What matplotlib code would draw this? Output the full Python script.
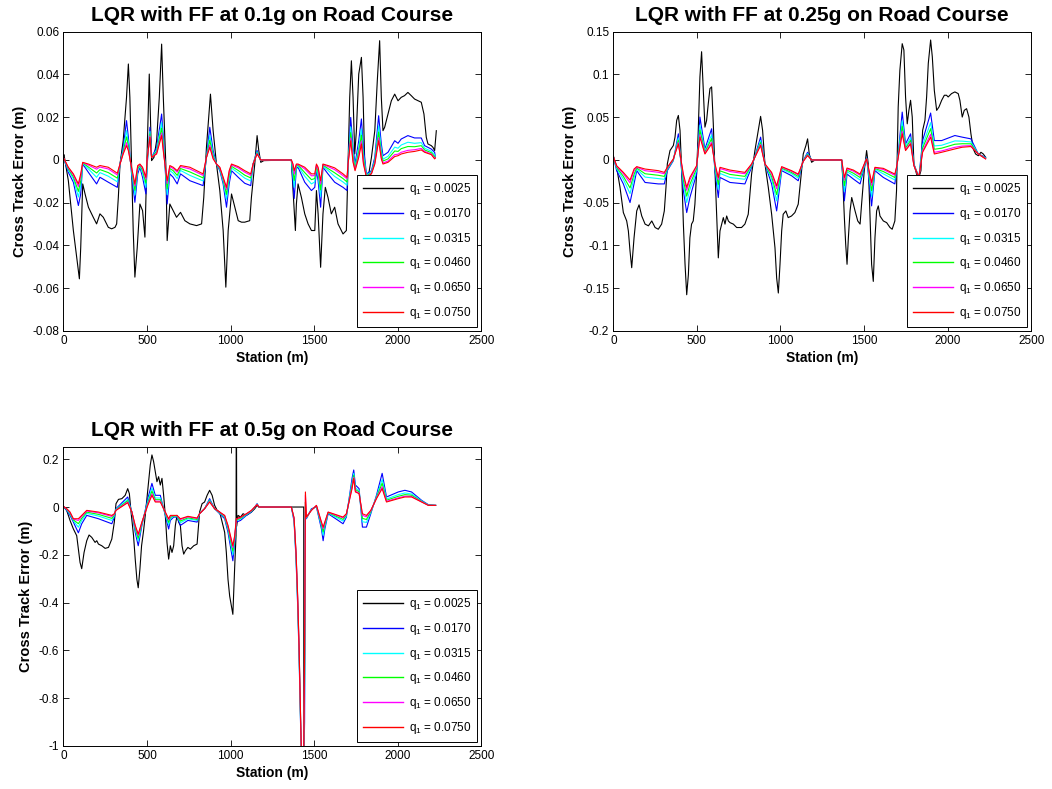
import numpy as np
import matplotlib
matplotlib.use("Agg")
import matplotlib.pyplot as plt
from matplotlib.ticker import FixedLocator, FixedFormatter

plt.rcParams['font.family'] = ['Liberation Sans', 'DejaVu Sans']
plt.rcParams['mathtext.fontset'] = 'custom'
plt.rcParams['mathtext.rm'] = 'Liberation Sans'
plt.rcParams['mathtext.it'] = 'Liberation Sans'

titles = ["LQR with FF at 0.1g on Road Course",
          "LQR with FF at 0.25g on Road Course",
          "LQR with FF at 0.5g on Road Course"]
q_labels = ["0.0025", "0.0170", "0.0315", "0.0460", "0.0650", "0.0750"]
colors = ["#000000", "#0000ff", "#00ffff", "#00ff00", "#ff00ff", "#ff0000"]

x_ticks = [0, 500, 1000, 1500, 2000, 2500]
x_ticklabels = ["0", "500", "1000", "1500", "2000", "2500"]

# ---------------- Panel 1 : 0.1 g ----------------
p1_y_ticks = [-0.08, -0.06, -0.04, -0.02, 0, 0.02, 0.04, 0.06]
p1_y_ticklabels = ["-0.08", "-0.06", "-0.04", "-0.02", "0", "0.02", "0.04", "0.06"]

p1_st_k = [0, 4, 30, 60, 80, 96, 104, 116, 130, 150, 179, 199, 219, 239, 269, 289, 309, 319, 329, 339,
           358, 378, 389, 398, 408, 418, 428, 442, 458, 474, 488, 494, 502, 514, 528, 542, 558, 574, 588, 598,
           613, 621, 637, 657, 677, 701, 727, 757, 797, 827, 840, 856, 880, 896, 916, 936, 956, 972, 986, 1006,
           1026, 1046, 1066, 1085, 1115, 1125, 1145, 1159, 1169, 1181, 1199, 1364, 1374, 1388, 1394, 1404, 1424, 1444, 1464, 1484,
           1504, 1514, 1524, 1539, 1553, 1567, 1583, 1603, 1623, 1643, 1673, 1693, 1703, 1713, 1723, 1733, 1743, 1753, 1767, 1783,
           1793, 1803, 1813, 1827, 1843, 1863, 1878, 1892, 1902, 1912, 1922, 1942, 1962, 1982, 2002, 2021, 2041, 2061, 2081, 2101,
           2141, 2157, 2171, 2181, 2201, 2211, 2221, 2231]
p1_k = [0.002, 0.0025, -0.0097, -0.033, -0.0455, -0.0556, -0.041, -0.0112, -0.0159, -0.0221,
        -0.0268, -0.0299, -0.0252, -0.0268, -0.0315, -0.0322, -0.0315, -0.0299, -0.0175, -0.0019,
        0.009, 0.0293, 0.0449, 0.0293, -0.0019, -0.033, -0.0548, -0.041, -0.0206, -0.0237,
        -0.0361, -0.0175, 0.0059, 0.0402, -0.0003, 0.0012, 0.009, 0.0293, 0.0542, 0.0293,
        -0.0019, -0.0377, -0.0206, -0.0237, -0.0268, -0.0245, -0.0284, -0.0299, -0.0307, -0.0299,
        -0.0175, 0.0059, 0.0308, 0.0137, -0.0019, -0.0143, -0.033, -0.0595, -0.033, -0.0159,
        -0.0221, -0.0284, -0.0291, -0.0291, -0.0284, -0.0175, -0.0019, 0.0114, 0.0044, -0.0011,
        -0.0003, 0.0, -0.0143, -0.033, -0.0206, -0.0112, -0.0175, -0.0252, -0.0299, -0.033,
        -0.033, -0.0143, -0.0252, -0.0502, -0.0252, -0.0128, -0.0175, -0.0252, -0.0221, -0.0299,
        -0.0346, -0.033, -0.0019, 0.0293, 0.0464, 0.0293, 0.0028, 0.0137, 0.0402, 0.048,
        0.0293, -0.0019, -0.0081, -0.0065, 0.0012, 0.0137, 0.0371, 0.0558, 0.0293, 0.0137,
        0.0153, 0.0215, 0.0277, 0.0308, 0.0277, 0.0293, 0.0301, 0.0316, 0.0301, 0.0285,
        0.027, 0.0215, 0.0106, 0.0075, 0.0067, 0.0059, 0.0044, 0.0137]

p1_st_c = [0, 30, 60, 90, 104, 116, 150, 199, 219, 269, 323, 339, 358, 378, 389, 408, 428, 445, 458, 474,
           494, 502, 518, 528, 558, 588, 600, 621, 637, 657, 681, 701, 757, 836, 856, 876, 896, 916, 936, 956,
           976, 992, 1006, 1046, 1085, 1121, 1135, 1159, 1181, 1200, 1364, 1374, 1381, 1394, 1404, 1444, 1484, 1504, 1514, 1524,
           1539, 1553, 1583, 1623, 1673, 1697, 1703, 1719, 1733, 1745, 1767, 1783, 1795, 1813, 1843, 1863, 1886, 1902, 1912, 1942,
           1982, 2002, 2021, 2061, 2101, 2141, 2161, 2201, 2221, 2225]
p1_b = [0.0012, -0.0058, -0.0104, -0.0213, -0.0159, -0.0019, -0.0058, -0.0112, -0.0081, -0.0104,
        -0.0128, -0.0019, 0.0059, 0.0184, 0.0106, -0.0065, -0.0198, -0.0065, -0.0034, -0.0081,
        -0.0159, -0.0019, 0.0153, 0.0012, 0.0059, 0.0215, 0.009, -0.0206, -0.0065, -0.0081,
        -0.0112, -0.0065, -0.0097, -0.012, 0.0012, 0.0153, 0.0044, -0.0019, -0.005, -0.0112,
        -0.0221, -0.0112, -0.005, -0.0081, -0.0109, -0.012, -0.0019, 0.0044, -0.0003, 0.0,
        0.0, -0.0112, -0.018, -0.004, -0.0034, -0.0104, -0.0143, -0.0128, -0.005, -0.0097,
        -0.0221, -0.0034, -0.0065, -0.0104, -0.0128, -0.0143, -0.0019, 0.0199, 0.0059, -0.0019,
        0.009, 0.0192, 0.0059, -0.0065, -0.005, 0.0012, 0.0207, 0.0075, 0.002, 0.0036,
        0.009, 0.0078, 0.0098, 0.0114, 0.0103, 0.0103, 0.0067, 0.0051, 0.0036, 0.0016]
p1_c = [0.0012, -0.0048, -0.0088, -0.0173, -0.0121, -0.0016, -0.0042, -0.0081, -0.0059, -0.0076,
        -0.0102, -0.0019, 0.0047, 0.0137, 0.0081, -0.0053, -0.0164, -0.0049, -0.0028, -0.0062,
        -0.0128, -0.0007, 0.0134, 0.0012, 0.0047, 0.0175, 0.0065, -0.0162, -0.0049, -0.0062,
        -0.0087, -0.0049, -0.0072, -0.0098, 0.0012, 0.0115, 0.0028, -0.0019, -0.0044, -0.0100,
        -0.0184, -0.0087, -0.0038, -0.0061, -0.0085, -0.0098, -0.0019, 0.0038, -0.0002, 0.0,
        0.0, -0.0075, -0.0128, -0.0032, -0.0028, -0.0076, -0.0112, -0.0103, -0.0038, -0.0072,
        -0.0171, -0.0028, -0.0049, -0.0077, -0.0103, -0.0118, -0.0019, 0.0155, 0.0031, -0.0031,
        0.0059, 0.0145, 0.0028, -0.0071, -0.0056, 0.0, 0.0160, 0.0047, 0.0004, 0.0017,
        0.0060, 0.0055, 0.0070, 0.0083, 0.0078, 0.0081, 0.0055, 0.0041, 0.0024, 0.0013]
p1_g = [0.0012, -0.0042, -0.0079, -0.0147, -0.0098, -0.0014, -0.0033, -0.0061, -0.0045, -0.0059,
        -0.0085, -0.0019, 0.0039, 0.0108, 0.0066, -0.0045, -0.0142, -0.0040, -0.0024, -0.0050,
        -0.0108, 0.0001, 0.0122, 0.0012, 0.0039, 0.0149, 0.0050, -0.0135, -0.0040, -0.0050,
        -0.0072, -0.0040, -0.0056, -0.0084, 0.0012, 0.0092, 0.0019, -0.0019, -0.0040, -0.0092,
        -0.0161, -0.0072, -0.0030, -0.0049, -0.0071, -0.0084, -0.0019, 0.0034, -0.0001, 0.0,
        0.0, -0.0052, -0.0096, -0.0026, -0.0024, -0.0059, -0.0092, -0.0087, -0.0030, -0.0056,
        -0.0140, -0.0024, -0.0040, -0.0060, -0.0087, -0.0103, -0.0019, 0.0128, 0.0014, -0.0039,
        0.0039, 0.0116, 0.0008, -0.0075, -0.0060, -0.0008, 0.0131, 0.0030, -0.0005, 0.0005,
        0.0042, 0.0040, 0.0053, 0.0063, 0.0062, 0.0067, 0.0047, 0.0034, 0.0016, 0.0011]
p1_m = [0.0012, -0.0037, -0.0070, -0.0124, -0.0076, -0.0012, -0.0024, -0.0043, -0.0033, -0.0042,
        -0.0070, -0.0019, 0.0032, 0.0081, 0.0051, -0.0038, -0.0122, -0.0031, -0.0021, -0.0040,
        -0.0090, 0.0008, 0.0112, 0.0012, 0.0032, 0.0126, 0.0035, -0.0110, -0.0031, -0.0040,
        -0.0057, -0.0031, -0.0042, -0.0072, 0.0012, 0.0070, 0.0010, -0.0019, -0.0036, -0.0085,
        -0.0139, -0.0057, -0.0023, -0.0037, -0.0057, -0.0072, -0.0019, 0.0030, 0.0, 0.0,
        0.0, -0.0030, -0.0066, -0.0022, -0.0021, -0.0042, -0.0074, -0.0073, -0.0023, -0.0042,
        -0.0112, -0.0021, -0.0031, -0.0045, -0.0073, -0.0088, -0.0019, 0.0103, -0.0003, -0.0046,
        0.0021, 0.0089, -0.0010, -0.0079, -0.0063, -0.0015, 0.0104, 0.0013, -0.0014, -0.0005,
        0.0025, 0.0027, 0.0036, 0.0045, 0.0048, 0.0054, 0.0040, 0.0028, 0.0009, 0.0010]
p1_r = [0.0012, -0.0034, -0.0065, -0.0112, -0.0065, -0.0011, -0.0019, -0.0034, -0.0026, -0.0034,
        -0.0062, -0.0019, 0.0028, 0.0067, 0.0044, -0.0034, -0.0112, -0.0026, -0.0019, -0.0034,
        -0.0081, 0.0012, 0.0106, 0.0012, 0.0028, 0.0114, 0.0028, -0.0097, -0.0026, -0.0034,
        -0.005, -0.0026, -0.0034, -0.0065, 0.0012, 0.0059, 0.0005, -0.0019, -0.0034, -0.0081,
        -0.0128, -0.005, -0.0019, -0.0031, -0.005, -0.0065, -0.0019, 0.0028, 0.0, 0.0,
        0.0, -0.0019, -0.005, -0.0019, -0.0019, -0.0034, -0.0065, -0.0065, -0.0019, -0.0034,
        -0.0097, -0.0019, -0.0026, -0.0037, -0.0065, -0.0081, -0.0019, 0.009, -0.0011, -0.005,
        0.0012, 0.0075, -0.0019, -0.0081, -0.0065, -0.0019, 0.009, 0.0005, -0.0019, -0.0011,
        0.0016, 0.002, 0.0028, 0.0036, 0.004, 0.0047, 0.0036, 0.0025, 0.0005, 0.0009]

# ---------------- Panel 2 : 0.25 g ----------------
p2_y_ticks = [-0.2, -0.15, -0.1, -0.05, 0, 0.05, 0.1, 0.15]
p2_y_ticklabels = ["-0.2", "-0.15", "-0.1", "-0.05", "0", "0.05", "0.1", "0.15"]

p2_st_k = [0, 20, 40, 60, 80, 90, 100, 110, 124, 140, 154, 170, 190, 210, 230, 250, 269, 289, 305, 315,
           323, 339, 359, 369, 379, 389, 399, 409, 419, 429, 439, 449, 458, 468, 478, 488, 498, 508, 518, 528,
           538, 548, 558, 568, 578, 588, 598, 608, 618, 628, 638, 648, 658, 668, 678, 688, 698, 718, 738, 767,
           787, 807, 827, 847, 867, 881, 893, 907, 927, 947, 967, 977, 987, 997, 1007, 1016, 1032, 1046, 1066, 1086,
           1106, 1120, 1136, 1152, 1162, 1172, 1186, 1206, 1366, 1370, 1382, 1390, 1398, 1406, 1416, 1426, 1436, 1446, 1462, 1476,
           1485, 1501, 1515, 1525, 1535, 1545, 1555, 1565, 1575, 1585, 1595, 1615, 1635, 1655, 1668, 1684, 1694, 1704, 1714, 1728,
           1738, 1748, 1758, 1768, 1778, 1788, 1798, 1814, 1828, 1840, 1850, 1864, 1874, 1884, 1898, 1908, 1920, 1934, 1948, 1964,
           1980, 1993, 2003, 2023, 2043, 2063, 2073, 2087, 2099, 2113, 2127, 2139, 2153, 2167, 2183, 2199, 2213, 2227]
p2_k = [0.005, -0.0086, -0.032, -0.0615, -0.0713, -0.083, -0.1066, -0.126, -0.091, -0.0596,
        -0.0525, -0.0655, -0.075, -0.077, -0.0713, -0.079, -0.081, -0.075, -0.0596, -0.032,
        -0.0047, 0.011, 0.0169, 0.0267, 0.0463, 0.0521, 0.0345, -0.0125, -0.075, -0.122,
        -0.1576, -0.134, -0.091, -0.075, -0.0713, -0.0517, -0.0165, 0.0345, 0.097, 0.1266,
        0.0815, 0.0384, 0.0463, 0.0659, 0.0835, 0.0855, 0.0423, -0.0125, -0.0635, -0.1145,
        -0.083, -0.075, -0.0674, -0.075, -0.0655, -0.0713, -0.0733, -0.075, -0.079, -0.079,
        -0.075, -0.0635, -0.0165, 0.011, 0.0345, 0.051, 0.0345, -0.0047, -0.032, -0.0635,
        -0.1027, -0.138, -0.1556, -0.122, -0.083, -0.0635, -0.0596, -0.0674, -0.0655, -0.0615,
        -0.0517, -0.0243, 0.007, 0.0169, 0.0247, 0.007, -0.0027, 0.0, 0.0, -0.0125,
        -0.0674, -0.0988, -0.122, -0.091, -0.0596, -0.0439, -0.0517, -0.0596, -0.0713, -0.075,
        -0.0517, -0.0125, 0.011, -0.0047, -0.0635, -0.122, -0.142, -0.091, -0.0596, -0.0537,
        -0.0655, -0.0713, -0.0733, -0.079, -0.081, -0.0713, -0.036, 0.062, 0.105, 0.136,
        0.1286, 0.0737, 0.0423, 0.058, 0.0698, 0.0502, -0.0047, -0.0165, -0.0204, -0.0125,
        0.0345, 0.0463, 0.0737, 0.113, 0.1403, 0.1207, 0.0815, 0.058, 0.062, 0.0698,
        0.0757, 0.0757, 0.0737, 0.0776, 0.0796, 0.0776, 0.0698, 0.0502, 0.058, 0.06,
        0.0502, 0.0306, 0.0129, 0.007, 0.005, 0.009, 0.007, 0.0031]

p2_st_c = [0, 20, 60, 100, 124, 140, 190, 269, 305, 323, 359, 389, 419, 439, 458, 498, 518, 548, 588, 608,
           628, 638, 698, 787, 827, 881, 907, 947, 977, 1007, 1066, 1106, 1136, 1162, 1186, 1366, 1382, 1398, 1436, 1476,
           1501, 1515, 1545, 1565, 1615, 1684, 1694, 1728, 1748, 1778, 1798, 1828, 1850, 1898, 1920, 1964, 2043, 2087, 2139, 2183,
           2227]
p2_b = [0.0039, -0.0125, -0.028, -0.0498, -0.028, -0.0125, -0.0263, -0.028, -0.028, -0.0125,
        -0.0008, 0.0306, -0.036, -0.0615, -0.0439, -0.0165, 0.0502, 0.0129, 0.0365, -0.0125,
        -0.0439, -0.0204, -0.0263, -0.028, -0.0086, 0.0267, -0.0047, -0.028, -0.0596, -0.0125,
        -0.0184, -0.0243, -0.0008, 0.009, 0.0, 0.0, -0.0478, -0.0165, -0.0223, -0.028,
        -0.0086, 0.0031, -0.0537, -0.0125, -0.0204, -0.028, -0.0125, 0.056, 0.0188, 0.0306,
        -0.0047, -0.0204, 0.0227, 0.0549, 0.0227, 0.0227, 0.0286, 0.0267, 0.0247, 0.007,
        0.0031]
p2_c = [0.0039, -0.0102, -0.0226, -0.0393, -0.0210, -0.0106, -0.0200, -0.0218, -0.0226, -0.0109,
        0.0, 0.0259, -0.0282, -0.0497, -0.0345, -0.0126, 0.0408, 0.0105, 0.0294, -0.0094,
        -0.0345, -0.0157, -0.0205, -0.0226, -0.0070, 0.0228, -0.0047, -0.0226, -0.0478, -0.0106,
        -0.0160, -0.0212, -0.0011, 0.0074, 0.0, 0.0, -0.0368, -0.0137, -0.0181, -0.0234,
        -0.0070, 0.0023, -0.0427, -0.0109, -0.0162, -0.0234, -0.0109, 0.0458, 0.0157, 0.0259,
        -0.0055, -0.0204, 0.0172, 0.0436, 0.0164, 0.0172, 0.0223, 0.0220, 0.0211, 0.007,
        0.0023]
p2_g = [0.0039, -0.0087, -0.0192, -0.0327, -0.0167, -0.0094, -0.0161, -0.0179, -0.0192, -0.0100,
        0.0005, 0.0229, -0.0233, -0.0423, -0.0286, -0.0101, 0.0349, 0.0091, 0.0250, -0.0074,
        -0.0286, -0.0127, -0.0169, -0.0192, -0.0061, 0.0203, -0.0047, -0.0192, -0.0405, -0.0094,
        -0.0146, -0.0192, -0.0013, 0.0065, 0.0, 0.0, -0.0300, -0.0119, -0.0155, -0.0205,
        -0.0061, 0.0019, -0.0359, -0.0100, -0.0135, -0.0205, -0.0100, 0.0395, 0.0137, 0.0229,
        -0.0060, -0.0204, 0.0138, 0.0366, 0.0125, 0.0138, 0.0184, 0.0190, 0.0189, 0.007,
        0.0019]
p2_m = [0.0039, -0.0074, -0.0161, -0.0267, -0.0127, -0.0084, -0.0125, -0.0144, -0.0161, -0.0091,
        0.0010, 0.0202, -0.0188, -0.0355, -0.0232, -0.0079, 0.0295, 0.0077, 0.0209, -0.0056,
        -0.0232, -0.0100, -0.0135, -0.0161, -0.0052, 0.0181, -0.0047, -0.0161, -0.0337, -0.0084,
        -0.0132, -0.0174, -0.0015, 0.0056, 0.0, 0.0, -0.0237, -0.0102, -0.0131, -0.0179,
        -0.0052, 0.0014, -0.0296, -0.0091, -0.0111, -0.0179, -0.0091, 0.0336, 0.0119, 0.0202,
        -0.0065, -0.0204, 0.0106, 0.0301, 0.0089, 0.0106, 0.0148, 0.0163, 0.0168, 0.007,
        0.0014]
p2_r = [0.0039, -0.0067, -0.0145, -0.0235, -0.0106, -0.0078, -0.0106, -0.0125, -0.0145, -0.0086,
        0.0012, 0.0188, -0.0165, -0.032, -0.0204, -0.0067, 0.0267, 0.007, 0.0188, -0.0047,
        -0.0204, -0.0086, -0.0118, -0.0145, -0.0047, 0.0169, -0.0047, -0.0145, -0.0302, -0.0078,
        -0.0125, -0.0165, -0.0016, 0.0051, 0.0, 0.0, -0.0204, -0.0094, -0.0118, -0.0165,
        -0.0047, 0.0012, -0.0263, -0.0086, -0.0098, -0.0165, -0.0086, 0.0306, 0.011, 0.0188,
        -0.0067, -0.0204, 0.009, 0.0267, 0.007, 0.009, 0.0129, 0.0149, 0.0157, 0.007,
        0.0012]

# ---------------- Panel 3 : 0.5 g ----------------
p3_y_ticks = [-1, -0.8, -0.6, -0.4, -0.2, 0, 0.2]
p3_y_ticklabels = ["-1", "-0.8", "-0.6", "-0.4", "-0.2", "0", "0.2"]

p3_st_k = [0, 20, 40, 60, 80, 90, 100, 110, 124, 140, 154, 170, 190, 200, 210, 230, 250, 270, 290, 305,
           315, 330, 350, 370, 385, 395, 405, 420, 430, 440, 448, 458, 468, 480, 490, 500, 510, 520, 530, 540,
           550, 560, 570, 580, 590, 600, 610, 620, 630, 640, 650, 660, 670, 680, 690, 700, 710, 720, 730, 745,
           760, 780, 800, 815, 830, 845, 860, 875, 890, 905, 920, 935, 950, 965, 975, 985, 995, 1014, 1025, 1033,
           1035, 1037, 1045, 1060, 1075, 1095, 1125, 1145, 1159, 1170, 1438, 1441]
p3_k = [0.003, -0.014, -0.056, -0.0915, -0.12, -0.176, -0.232, -0.258, -0.19, -0.141,
        -0.117, -0.127, -0.148, -0.141, -0.155, -0.162, -0.173, -0.169, -0.134, -0.063,
        0.014, 0.032, 0.035, 0.049, 0.077, 0.056, -0.021, -0.12, -0.218, -0.303,
        -0.338, -0.26, -0.162, -0.099, -0.035, 0.035, 0.106, 0.176, 0.218, 0.19,
        0.148, 0.106, 0.127, 0.092, 0.12, 0.049, -0.035, -0.148, -0.218, -0.162,
        -0.19, -0.162, -0.077, -0.035, -0.063, -0.077, -0.162, -0.197, -0.183, -0.169,
        -0.176, -0.162, -0.155, -0.021, 0.014, 0.021, 0.049, 0.07, 0.049, 0.007,
        -0.014, -0.021, -0.063, -0.106, -0.19, -0.303, -0.373, -0.449, -0.25, -0.12,
        0.6, -0.08, -0.035, -0.042, -0.028, -0.035, -0.021, -0.007, 0.007, 0.0,
        0.0, -5.0]

p3_st_c = [0, 20, 40, 60, 90, 110, 140, 210, 290, 305, 315, 385, 410, 430, 448, 470, 505, 530, 550, 580,
           600, 630, 640, 660, 680, 700, 745, 800, 815, 845, 875, 905, 965, 985, 1014, 1025, 1035, 1060, 1095, 1125,
           1159, 1170, 1364, 1380, 1392, 1402, 1410, 1418, 1424, 1436, 1443, 1448, 1454, 1484, 1514, 1544, 1554, 1564, 1584, 1644,
           1673, 1693, 1727, 1737, 1747, 1769, 1789, 1813, 1839, 1873, 1907, 1933, 2003, 2043, 2083, 2143, 2183, 2227]
p3_b = [0.003, -0.014, -0.035, -0.063, -0.108, -0.07, -0.035, -0.049, -0.07, -0.042,
        -0.007, 0.042, -0.021, -0.106, -0.162, -0.077, 0.035, 0.099, 0.049, 0.049,
        -0.007, -0.092, -0.056, -0.042, -0.042, -0.077, -0.056, -0.063, -0.028, -0.007,
        0.035, -0.007, -0.049, -0.106, -0.225, -0.148, -0.063, -0.056, -0.035, -0.021,
        0.014, 0.0, 0.0, -0.06, -0.22, -0.42, -0.62, -0.88, -1.05, -1.2,
        -0.9, -0.02, -0.049, -0.007, 0.0, -0.092, -0.141, -0.092, -0.028, -0.056,
        -0.07, -0.042, 0.12, 0.155, 0.092, 0.077, -0.084, -0.084, -0.028, 0.049,
        0.141, 0.042, 0.063, 0.07, 0.063, 0.028, 0.01, 0.007]
p3_c = [0.003, -0.0112, -0.0294, -0.0574, -0.0844, -0.056, -0.0266, -0.0378, -0.056, -0.0364,
        -0.0098, 0.0324, -0.021, -0.0944, -0.1424, -0.0714, 0.0238, 0.079, 0.0378, 0.0378,
        -0.007, -0.0748, -0.0476, -0.0392, -0.0392, -0.0658, -0.0492, -0.0562, -0.028, -0.007,
        0.0294, -0.007, -0.0434, -0.0944, -0.1998, -0.1368, -0.0574, -0.0504, -0.0322, -0.0182,
        0.0124, 0.0, 0.0, -0.051, -0.208, -0.404, -0.604, -0.864, -1.042, -1.2,
        -0.78, 0.005, -0.0462, -0.0098, 0.0028, -0.0804, -0.1182, -0.0804, -0.0252, -0.0476,
        -0.0588, -0.0364, 0.1028, 0.141, 0.0804, 0.0686, -0.0616, -0.0644, -0.0224, 0.0434,
        0.1154, 0.0336, 0.0518, 0.0588, 0.0546, 0.0252, 0.0088, 0.007]
p3_g = [0.003, -0.0095, -0.0259, -0.0539, -0.0697, -0.0473, -0.0214, -0.0308, -0.0473, -0.0329,
        -0.0116, 0.0264, -0.021, -0.0872, -0.1302, -0.0679, 0.0168, 0.0665, 0.0308, 0.0308,
        -0.007, -0.0641, -0.0424, -0.0375, -0.0375, -0.0588, -0.045, -0.052, -0.028, -0.007,
        0.0259, -0.007, -0.0399, -0.0872, -0.184, -0.1298, -0.0539, -0.0469, -0.0305, -0.0165,
        0.0114, 0.0, 0.0, -0.049, -0.2, -0.394, -0.594, -0.854, -1.037, -1.2,
        -0.7, 0.02, -0.0445, -0.0116, 0.0046, -0.0732, -0.104, -0.0732, -0.0235, -0.0424,
        -0.0518, -0.0329, 0.0921, 0.1323, 0.0732, 0.0634, -0.0476, -0.0522, -0.0189, 0.0399,
        0.0994, 0.0284, 0.0448, 0.0518, 0.0494, 0.0235, 0.008, 0.007]
p3_m = [0.003, -0.0078, -0.0227, -0.0507, -0.0561, -0.0392, -0.0165, -0.0244, -0.0392, -0.0297,
        -0.0132, 0.0209, -0.021, -0.0805, -0.1189, -0.0647, 0.0104, 0.055, 0.0244, 0.0244,
        -0.007, -0.0542, -0.0375, -0.0358, -0.0358, -0.0524, -0.041, -0.048, -0.028, -0.007,
        0.0227, -0.007, -0.0367, -0.0805, -0.1696, -0.1234, -0.0507, -0.0437, -0.0288, -0.0148,
        0.0105, 0.0, 0.0, -0.047, -0.194, -0.385, -0.585, -0.845, -1.032, -1.2,
        -0.64, 0.05, -0.0428, -0.0132, 0.0062, -0.0665, -0.0908, -0.0665, -0.0218, -0.0375,
        -0.0454, -0.0297, 0.0822, 0.1242, 0.0665, 0.0585, -0.0347, -0.0409, -0.0157, 0.0367,
        0.0847, 0.0235, 0.0384, 0.0454, 0.0445, 0.0218, 0.0074, 0.007]
p3_r = [0.003, -0.007, -0.021, -0.049, -0.049, -0.035, -0.014, -0.021, -0.035, -0.028,
        -0.014, 0.018, -0.021, -0.077, -0.113, -0.063, 0.007, 0.049, 0.021, 0.021,
        -0.007, -0.049, -0.035, -0.035, -0.035, -0.049, -0.039, -0.046, -0.028, -0.007,
        0.021, -0.007, -0.035, -0.077, -0.162, -0.12, -0.049, -0.042, -0.028, -0.014,
        0.01, 0.0, 0.0, -0.045, -0.19, -0.38, -0.58, -0.84, -1.03, -1.2,
        -0.6, 0.063, -0.042, -0.014, 0.007, -0.063, -0.084, -0.063, -0.021, -0.035,
        -0.042, -0.028, 0.077, 0.12, 0.063, 0.056, -0.028, -0.035, -0.014, 0.035,
        0.077, 0.021, 0.035, 0.042, 0.042, 0.021, 0.007, 0.007]

panels = [
    dict(title=titles[0], st_k=p1_st_k, k=p1_k, st_c=p1_st_c,
         series=[p1_b, p1_c, p1_g, p1_m, p1_r], ylim=(-0.08, 0.06),
         yt=p1_y_ticks, ytl=p1_y_ticklabels,
         rect=[0.0602, 0.5805, 0.3973, 0.3793]),
    dict(title=titles[1], st_k=p2_st_k, k=p2_k, st_c=p2_st_c,
         series=[p2_b, p2_c, p2_g, p2_m, p2_r], ylim=(-0.2, 0.15),
         yt=p2_y_ticks, ytl=p2_y_ticklabels,
         rect=[0.5830, 0.5805, 0.3973, 0.3793]),
    dict(title=titles[2], st_k=p3_st_k, k=p3_k, st_c=p3_st_c,
         series=[p3_b, p3_c, p3_g, p3_m, p3_r], ylim=(-1.0, 0.25),
         yt=p3_y_ticks, ytl=p3_y_ticklabels,
         rect=[0.0602, 0.0545, 0.3973, 0.3786]),
]

fig = plt.figure(figsize=(10.52, 7.89), dpi=100)
fig.patch.set_facecolor("white")

for p in panels:
    ax = fig.add_axes(p["rect"])
    lines = []
    l, = ax.plot(p["st_k"], p["k"], color=colors[0], lw=0.8)
    lines.append(l)
    for col, vals in zip(colors[1:], p["series"]):
        l, = ax.plot(p["st_c"], vals, color=col, lw=0.8)
        lines.append(l)
    ax.set_xlim(0, 2500)
    ax.set_ylim(*p["ylim"])
    ax.xaxis.set_major_locator(FixedLocator(x_ticks))
    ax.xaxis.set_major_formatter(FixedFormatter(x_ticklabels))
    ax.yaxis.set_major_locator(FixedLocator(p["yt"]))
    ax.yaxis.set_major_formatter(FixedFormatter(p["ytl"]))
    ax.tick_params(direction="in", top=True, right=True, length=4, width=0.6,
                   labelsize=8.5, pad=3, colors="black")
    for s in ax.spines.values():
        s.set_linewidth(0.7)
    ax.set_title(p["title"], fontsize=15, fontweight="bold", pad=8)
    ax.set_xlabel("Station (m)", fontsize=10, fontweight="bold", labelpad=3)
    ax.set_ylabel("Cross Track Error (m)", fontsize=10.5, fontweight="bold", labelpad=4)
    labels = [r"$\mathregular{q_1}$ = " + q for q in q_labels]
    leg = ax.legend(lines, labels, loc="lower right", fontsize=8.5, frameon=True,
                    fancybox=False, framealpha=1, edgecolor="black",
                    handlelength=3.4, labelspacing=0.74, borderpad=0.5,
                    handletextpad=0.5, borderaxespad=0.35)
    leg.get_frame().set_linewidth(0.7)
    for h in leg.get_lines():
        h.set_linewidth(1.0)

fig.savefig("out.png", dpi=100, facecolor="white")
